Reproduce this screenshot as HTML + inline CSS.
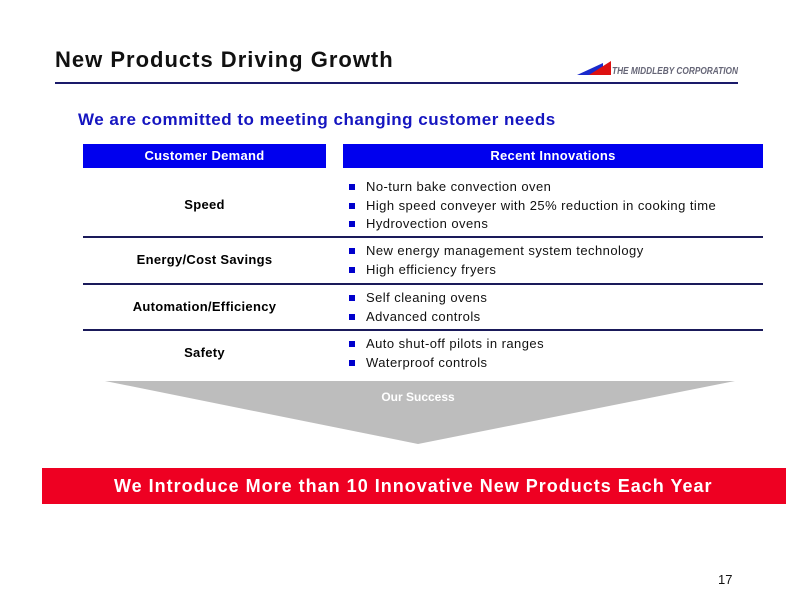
<!DOCTYPE html>
<html><head><meta charset="utf-8"><style>
body{margin:0;width:792px;height:612px;background:#fff;position:relative;font-family:"Liberation Sans",Arial,sans-serif;overflow:hidden}
.a{position:absolute}
.hd{background:#0000ee;color:#fff;font-weight:bold;font-size:13px;text-align:center;line-height:24px;letter-spacing:0.3px}
.cd{font-size:13px;font-weight:bold;text-align:center;width:243px;left:83px;letter-spacing:0.3px}
.sep{height:2px;background:#1a1a5a;left:83px;width:680px}
.bl{left:349px;font-size:13px;color:#111;letter-spacing:0.45px}
.bl div{height:18.5px;line-height:18.5px;position:relative;padding-left:17px}
.bl div:before{content:"";position:absolute;left:0;top:6px;width:6px;height:6px;background:#0000cc}
</style></head><body>
<div class="a" style="left:55px;top:47px;font-size:22px;letter-spacing:1px;font-weight:bold;color:#111">New Products Driving Growth</div>
<svg class="a" style="left:575px;top:58px" width="165" height="20"><polygon points="2,17 28,5 28,17" fill="#1a2acc"/><polygon points="14,17 36,3 36,17" fill="#dd1111"/><text x="37" y="16" font-size="10" font-weight="bold" font-style="italic" fill="#667" font-family="Liberation Sans" textLength="126" lengthAdjust="spacingAndGlyphs">THE MIDDLEBY CORPORATION</text></svg>
<div class="a" style="left:55px;top:82px;width:683px;height:2px;background:#1a1a6a"></div>
<div class="a" style="left:78px;top:110px;font-size:17px;letter-spacing:0.5px;font-weight:bold;color:#1515c0">We are committed to meeting changing customer needs</div>
<div class="a hd" style="left:83px;top:144px;width:243px">Customer Demand</div>
<div class="a hd" style="left:343px;top:144px;width:420px">Recent Innovations</div>
<div class="a cd" style="top:197px">Speed</div>
<div class="a bl" style="top:178px"><div>No-turn bake convection oven</div><div>High speed conveyer with 25% reduction in cooking time</div><div>Hydrovection ovens</div></div>
<div class="a sep" style="top:236px"></div>
<div class="a cd" style="top:252px">Energy/Cost Savings</div>
<div class="a bl" style="top:242px"><div>New energy management system technology</div><div>High efficiency fryers</div></div>
<div class="a sep" style="top:283px"></div>
<div class="a cd" style="top:299px">Automation/Efficiency</div>
<div class="a bl" style="top:289px"><div>Self cleaning ovens</div><div>Advanced controls</div></div>
<div class="a sep" style="top:329px"></div>
<div class="a cd" style="top:345px">Safety</div>
<div class="a bl" style="top:335px"><div>Auto shut-off pilots in ranges</div><div>Waterproof controls</div></div>
<svg class="a" style="left:0;top:0" width="792" height="612"><polygon points="105,381 735,381 418,444" fill="#bdbdbd"/></svg>
<div class="a" style="left:318px;top:390px;width:200px;text-align:center;font-size:12px;font-weight:bold;color:#fff">Our Success</div>
<div class="a" style="left:42px;top:468px;width:744px;height:36px;background:#ee0022;color:#fff;font-size:18px;letter-spacing:1px;font-weight:bold;line-height:36px"><span style="margin-left:72px">We Introduce More than 10 Innovative New Products Each Year</span></div>
<div class="a" style="left:718px;top:572px;font-size:13px;color:#111">17</div>
</body></html>
